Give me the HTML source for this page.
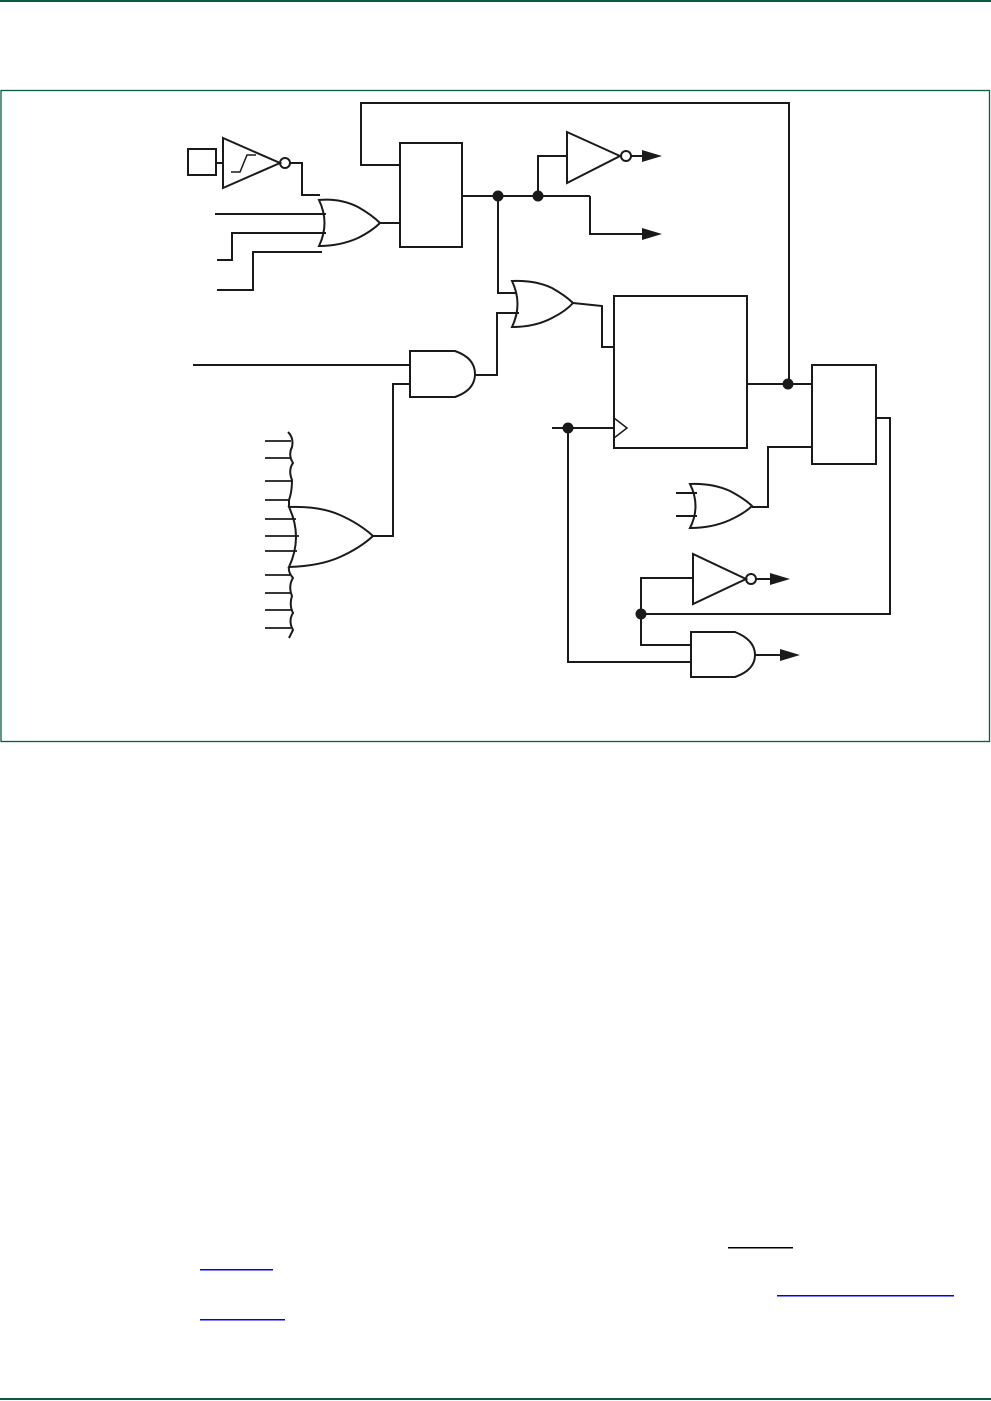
<!DOCTYPE html>
<html><head><meta charset="utf-8"><style>
html,body{margin:0;padding:0;background:#fff;width:991px;height:1401px;overflow:hidden}
svg{display:block}
</style></head><body>
<svg width="991" height="1401" viewBox="0 0 991 1401" xmlns="http://www.w3.org/2000/svg">
<rect x="0" y="0" width="991" height="2" fill="#0b5a45"/>
<rect x="0" y="1398" width="991" height="2" fill="#0b5a45"/>
<rect x="1" y="90.5" width="988.5" height="651" fill="none" stroke="#0b5a45" stroke-width="1.3"/>
<g fill="none" stroke="#1a1a1a" stroke-width="2">
<!-- input pin and schmitt buffer -->
<rect x="188" y="149" width="28" height="26"/>
<line x1="216" y1="163" x2="223" y2="163"/>
<polygon points="223,138 223,188 280,163"/>
<path d="M231,172 H240 L247,155 H256" stroke-width="1.5"/>
<circle cx="285" cy="163" r="5"/>
<polyline points="290,163 302,163 302,195 320,195"/>
<!-- OR gate 1 -->
<path d="M319,200 Q340,198 358,207 Q372,215 380,223 Q372,231 358,238 Q340,246 319,246 Q330,223 319,200 Z"/>
<line x1="215" y1="214" x2="326" y2="214"/>
<polyline points="217,260 232,260 232,233 326,233"/>
<polyline points="217,290 253,290 253,252 322,252"/>
<line x1="380" y1="223" x2="400" y2="223"/>
<!-- block 1 -->
<rect x="400" y="143" width="62" height="104"/>
<polyline points="400,165 361,165 361,103 789,103 789,384"/>
<line x1="462" y1="196" x2="590" y2="196"/>
<polyline points="538,196 538,156 567,156"/>
<polygon points="567,132 567,183 620,156"/>
<circle cx="626" cy="156" r="5"/>
<line x1="631" y1="156" x2="645" y2="156"/>
<polyline points="590,196 590,234 645,234"/>
<polyline points="498,196 498,293 516,293"/>
<!-- OR gate 2 -->
<path d="M512,281 Q535,280 552,288 Q566,296 573,303 Q566,311 552,318 Q535,327 512,327 Q523,304 512,281 Z"/>
<polyline points="475,375 497,375 497,313 519,313"/>
<polyline points="573,303 602,306 602,347 614,347"/>
<!-- AND gate 1 -->
<path d="M410,351 H455 Q475,358 475,374 Q475,390 455,397 H410 Z"/>
<line x1="193" y1="365" x2="410" y2="365"/>
<polyline points="410,384 393,384 393,536 373,536"/>
<!-- big OR -->
<path d="M289,507 Q320,506 340,515 Q360,524 373,536 Q360,548 340,557 Q320,566 289,567 Q303,537 289,507 Z"/>
<path d="M288,432 Q294,438 292,447 Q288,455 293,463 Q288,470 292,480 Q292,492 289,500 L289,507 M289,567 Q288,572 293,578 Q288,586 292,596 Q289,605 293,613 Q288,621 293,630 L289,638"/>
<g stroke-width="1.8">
<line x1="265" y1="441" x2="291" y2="441"/>
<line x1="265" y1="458" x2="291" y2="458"/>
<line x1="265" y1="481" x2="291" y2="481"/>
<line x1="265" y1="500" x2="289" y2="500"/>
<line x1="265" y1="519" x2="296" y2="519"/>
<line x1="265" y1="536" x2="299" y2="536"/>
<line x1="265" y1="551" x2="297" y2="551"/>
<line x1="265" y1="575" x2="290" y2="575"/>
<line x1="265" y1="593" x2="291" y2="593"/>
<line x1="265" y1="610" x2="291" y2="610"/>
<line x1="265" y1="628" x2="291" y2="628"/>
</g>
<!-- big block -->
<rect x="614" y="296" width="133" height="152"/>
<polyline points="614,418 627,428 614,438" stroke-width="1.5"/>
<line x1="552" y1="428" x2="614" y2="428"/>
<polyline points="568,428 568,662 691,662"/>
<line x1="747" y1="384" x2="812" y2="384"/>
<!-- block 3 -->
<rect x="812" y="365" width="64" height="99"/>
<polyline points="812,447 768,447 768,507 752,507"/>
<path d="M690,484 Q712,483 730,491 Q745,499 752,506 Q745,513 730,520 Q712,528 690,528 Q701,506 690,484 Z"/>
<line x1="676" y1="493" x2="697" y2="493"/>
<line x1="676" y1="516" x2="697" y2="516"/>
<polyline points="876,418 890,418 890,614 641,614"/>
<polyline points="641,614 641,578 693,578"/>
<polygon points="693,554 693,604 746,579"/>
<circle cx="751" cy="579" r="5"/>
<line x1="756" y1="579" x2="772" y2="579"/>
<polyline points="641,614 641,645 691,645"/>
<path d="M691,632 H735 Q755,640 755,655 Q755,670 735,677 H691 Z"/>
<line x1="755" y1="655" x2="782" y2="655"/>
</g>
<g fill="#1a1a1a">
<polygon points="642,150 662,156 642,162"/>
<polygon points="642,228 662,234 642,240"/>
<polygon points="770,573 790,579 770,585"/>
<polygon points="780,649 800,655 780,661"/>
<circle cx="498" cy="196" r="5.5"/>
<circle cx="538" cy="196" r="5.5"/>
<circle cx="788" cy="384" r="5.5"/>
<circle cx="568" cy="428" r="5.5"/>
<circle cx="641" cy="614" r="5.5"/>
</g>
<rect x="728" y="1247" width="65" height="1.5" fill="#000"/>
<rect x="200" y="1269" width="73" height="1.5" fill="#0000ff"/>
<rect x="777" y="1295" width="177" height="1.5" fill="#0000ff"/>
<rect x="200" y="1319" width="85" height="1.5" fill="#0000ff"/>
</svg>
</body></html>
